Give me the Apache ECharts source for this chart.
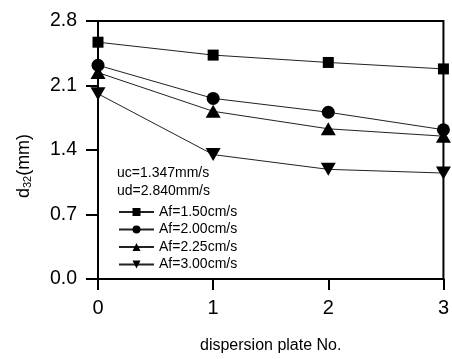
<!DOCTYPE html>
<html>
<head>
<meta charset="utf-8">
<script src="https://cdn.jsdelivr.net/npm/echarts@6/dist/echarts.min.js"></script>
<style>
  html, body { margin: 0; padding: 0; background: #fff; }
  #chart { width: 452px; height: 359px; }
</style>
</head>
<body>
<div id="chart"></div>
<script>
// plate numbers and measured d32 values
const plates = [0, 1, 2, 3];
const af150 = [2.57, 2.43, 2.35, 2.28];
const af200 = [2.32, 1.96, 1.81, 1.62];
const af225 = [2.24, 1.82, 1.63, 1.55];
const af300 = [2.01, 1.35, 1.19, 1.15];
const seriesNames = ['Af=1.50cm/s', 'Af=2.00cm/s', 'Af=2.25cm/s', 'Af=3.00cm/s'];
const yTicks = [0.0, 0.7, 1.4, 2.1, 2.8];

const font = 'Arial, "Liberation Sans", Helvetica, sans-serif';
const chart = echarts.init(document.getElementById('chart'));

const makeSeries = (name, vals, symbol, size, rotate) => ({
  name,
  type: 'line',
  data: plates.map((p, i) => [p, vals[i]]),
  symbol,
  symbolSize: size,
  symbolRotate: rotate || 0,
  lineStyle: { color: '#222', width: 1 },
  itemStyle: { color: '#000' },
  animation: false
});

chart.setOption({
  backgroundColor: '#fff',
  grid: {
    left: 98, right: 8, top: 21, bottom: 77,
    show: true, borderColor: '#000', borderWidth: 2
  },
  xAxis: {
    type: 'value',
    min: 0, max: 3, interval: 1,
    name: 'dispersion plate No.',
    nameLocation: 'middle',
    nameGap: 59,
    nameTextStyle: { fontFamily: font, fontSize: 16, color: '#000' },
    axisLine: { lineStyle: { color: '#000', width: 2 } },
    axisTick: { inside: false, length: 11, lineStyle: { color: '#000', width: 2 } },
    axisLabel: { fontFamily: font, fontSize: 20, color: '#000', margin: 19 },
    splitLine: { show: false }
  },
  yAxis: {
    type: 'value',
    min: yTicks[0], max: yTicks[yTicks.length - 1], interval: 0.7,
    axisLine: { show: true, lineStyle: { color: '#000', width: 2 } },
    axisTick: { show: true, inside: false, length: 12, lineStyle: { color: '#000', width: 2 } },
    axisLabel: {
      fontFamily: font, fontSize: 19.5, color: '#000', margin: 21,
      formatter: v => v.toFixed(1)
    },
    splitLine: { show: false }
  },
  legend: {
    orient: 'vertical',
    left: 113, top: 200,
    itemWidth: 35, itemHeight: 10, itemGap: 3.5,
    textStyle: { fontFamily: font, fontSize: 14, color: '#000' },
    data: seriesNames
  },
  graphic: [
    {
      type: 'text', left: 117, top: 166,
      style: { text: 'uc=1.347mm/s', font: '14px ' + font, fill: '#000' }
    },
    {
      type: 'text', left: 117, top: 184,
      style: { text: 'ud=2.840mm/s', font: '14px ' + font, fill: '#000' }
    },
    {
      type: 'text', x: 24, y: 166, rotation: Math.PI / 2,
      style: {
        text: 'd{sub|32}(mm)',
        fontFamily: font, fontSize: 18, fill: '#000',
        align: 'center', verticalAlign: 'middle',
        rich: { sub: { fontFamily: font, fontSize: 11, verticalAlign: 'bottom', padding: [8, 0, 0, 0] } }
      }
    }
  ],
  series: [
    makeSeries(seriesNames[0], af150, 'rect', 11),
    makeSeries(seriesNames[1], af200, 'circle', 13),
    makeSeries(seriesNames[2], af225, 'triangle', [15, 13]),
    makeSeries(seriesNames[3], af300, 'triangle', [15, 13], 180)
  ]
});
</script>
</body>
</html>
